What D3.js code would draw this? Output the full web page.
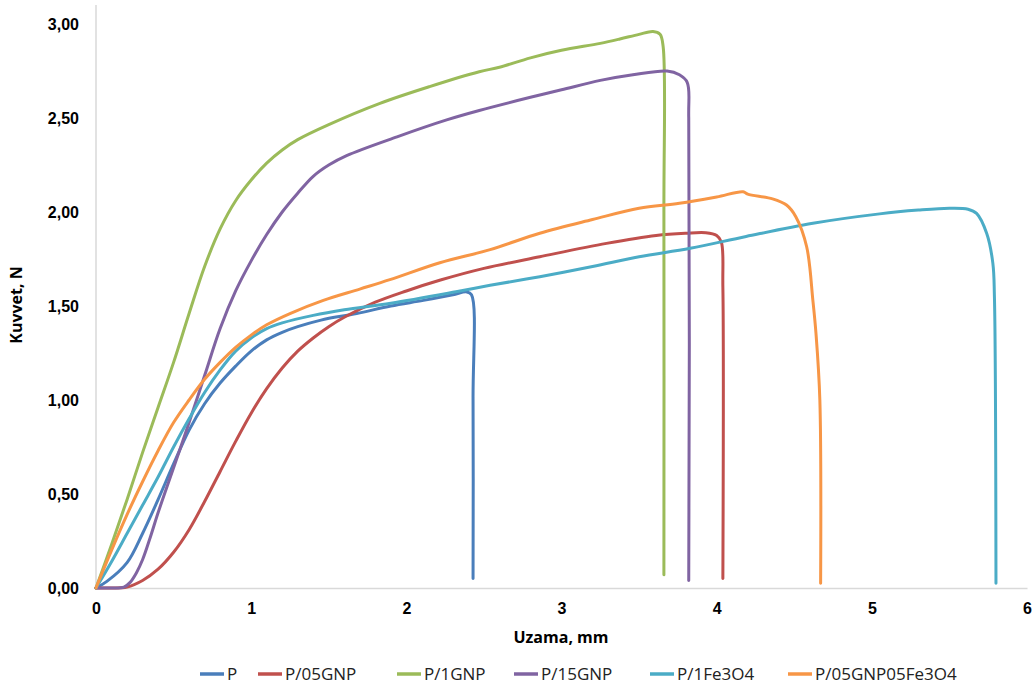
<!DOCTYPE html>
<html>
<head>
<meta charset="utf-8">
<script src="https://cdn.jsdelivr.net/npm/d3@7"></script>
<style>
  body { margin: 0; background: #fff; }
  svg { display: block; font-family: "Open Sans", "DejaVu Sans", sans-serif; }
</style>
</head>
<body>
<svg id="chart" width="1036" height="689"></svg>
<script>
// series names & colours
const seriesNames = ['P', 'P/05GNP', 'P/1GNP', 'P/15GNP', 'P/1Fe3O4', 'P/05GNP05Fe3O4'];
const seriesColors = ['#4A7EBB', '#C0504D', '#9BBB59', '#8064A2', '#4BACC6', '#F79646'];

// elongation (mm) / force (N)
const pX = [0, 0.07, 0.2, 0.3, 0.4, 0.5, 0.6, 0.7, 0.8, 0.9, 1.0, 1.1, 1.2, 1.3, 1.45, 1.68, 1.9, 2.11, 2.3, 2.39, 2.42, 2.43, 2.43];
const pY = [0, 0.035, 0.135, 0.29, 0.47, 0.66, 0.84, 0.98, 1.09, 1.18, 1.26, 1.32, 1.36, 1.39, 1.425, 1.46, 1.5, 1.53, 1.56, 1.575, 1.56, 1.0, 0.05];

const gnp05X = [0, 0.1, 0.2, 0.3, 0.4, 0.5, 0.6, 0.7, 0.8, 0.9, 1.0, 1.1, 1.2, 1.3, 1.4, 1.5, 1.6, 1.8, 2.0, 2.22, 2.5, 2.86, 3.29, 3.61, 3.8, 3.93, 4.0, 4.03, 4.04, 4.04];
const gnp05Y = [0, 0, 0.005, 0.04, 0.1, 0.19, 0.31, 0.46, 0.62, 0.78, 0.93, 1.06, 1.17, 1.26, 1.33, 1.39, 1.44, 1.52, 1.58, 1.638, 1.7, 1.762, 1.833, 1.875, 1.887, 1.89, 1.875, 1.84, 1.6, 0.05];

const gnp1X = [0, 0.1, 0.2, 0.3, 0.4, 0.5, 0.6, 0.7, 0.8, 0.9, 1.0, 1.1, 1.2, 1.3, 1.5, 1.83, 2.15, 2.47, 2.6, 2.8, 3.0, 3.25, 3.376, 3.5, 3.59, 3.635, 3.655, 3.66, 3.66];
const gnp1Y = [0, 0.23, 0.47, 0.72, 0.96, 1.2, 1.46, 1.71, 1.91, 2.06, 2.17, 2.26, 2.33, 2.385, 2.465, 2.578, 2.667, 2.746, 2.77, 2.82, 2.86, 2.897, 2.92, 2.945, 2.96, 2.945, 2.88, 2.0, 0.07];

const gnp15X = [0, 0.1, 0.18, 0.22, 0.26, 0.3, 0.35, 0.4, 0.5, 0.6, 0.7, 0.8, 0.9, 1.0, 1.1, 1.2, 1.3, 1.4, 1.5, 1.615, 1.94, 2.26, 2.47, 2.8, 3.0, 3.25, 3.46, 3.68, 3.76, 3.81, 3.82, 3.82];
const gnp15Y = [0, 0, 0.005, 0.03, 0.08, 0.15, 0.27, 0.4, 0.64, 0.88, 1.13, 1.38, 1.58, 1.74, 1.88, 2.0, 2.1, 2.19, 2.25, 2.3, 2.4, 2.49, 2.54, 2.61, 2.65, 2.7, 2.73, 2.75, 2.73, 2.69, 2.5, 0.04];

const fe1X = [0, 0.1, 0.2, 0.3, 0.4, 0.5, 0.6, 0.7, 0.8, 0.9, 1.0, 1.1, 1.2, 1.4, 1.6, 1.9, 2.32, 2.54, 2.86, 3.2, 3.5, 3.83, 4.19, 4.62, 5.05, 5.3, 5.5, 5.62, 5.675, 5.74, 5.78, 5.79, 5.8];
const fe1Y = [0, 0.14, 0.29, 0.44, 0.59, 0.75, 0.9, 1.04, 1.16, 1.26, 1.33, 1.38, 1.41, 1.45, 1.48, 1.515, 1.576, 1.61, 1.656, 1.71, 1.762, 1.807, 1.87, 1.94, 1.99, 2.01, 2.02, 2.015, 1.993, 1.887, 1.727, 1.55, 0.025];

const gnpFeX = [0, 0.1, 0.2, 0.3, 0.4, 0.5, 0.6, 0.7, 0.8, 0.9, 1.0, 1.1, 1.25, 1.465, 1.7, 1.894, 2.216, 2.54, 2.86, 3.2, 3.5, 3.76, 4.0, 4.17, 4.2, 4.36, 4.45, 4.51, 4.58, 4.62, 4.64, 4.665, 4.67];
const gnpFeY = [0, 0.2, 0.39, 0.565, 0.73, 0.88, 1.0, 1.11, 1.2, 1.28, 1.345, 1.4, 1.46, 1.53, 1.59, 1.64, 1.73, 1.80, 1.887, 1.96, 2.02, 2.046, 2.08, 2.108, 2.095, 2.07, 2.037, 1.975, 1.815, 1.53, 1.355, 1.0, 0.025];

const xTicks = [0, 1, 2, 3, 4, 5, 6];
const yTicks = [0, 0.5, 1, 1.5, 2, 2.5, 3];

const allX = [pX, gnp05X, gnp1X, gnp15X, fe1X, gnpFeX];
const allY = [pY, gnp05Y, gnp1Y, gnp15Y, fe1Y, gnpFeY];

const series = seriesNames.map((name, i) => ({
    name: name,
    color: seriesColors[i],
    points: allX[i].map((x, j) => [x, allY[i][j]])
}));

const margin = { top: 24, right: 9, bottom: 101, left: 96 };
const width = 1036, height = 689;

const svg = d3.select('#chart');

const x = d3.scaleLinear()
    .domain([0, 6])
    .range([margin.left, width - margin.right]);

const y = d3.scaleLinear()
    .domain([0, 3])
    .range([height - margin.bottom, margin.top]);

const fmt = d => d3.format('.2f')(d).replace('.', ',');

// y axis
const yAxis = svg.append('g')
    .attr('transform', 'translate(' + margin.left + ',0)')
    .call(d3.axisLeft(y).tickValues(yTicks).tickFormat(fmt).tickSize(0).tickPadding(17));
yAxis.select('.domain').remove();
yAxis.append('line')
    .attr('x1', 0).attr('x2', 0)
    .attr('y1', 5).attr('y2', y(0))
    .attr('stroke', '#D9D9D9').attr('stroke-width', 1.5);

// x axis
const xAxis = svg.append('g')
    .attr('transform', 'translate(0,' + y(0) + ')')
    .call(d3.axisBottom(x).tickValues(xTicks).tickFormat(d3.format('d')).tickSize(0).tickPadding(15));
xAxis.select('.domain').attr('stroke', '#D9D9D9').attr('stroke-width', 1.5);

svg.selectAll('.tick text')
    .attr('font-size', 16)
    .attr('font-weight', 700)
    .attr('fill', '#000');

// axis titles
svg.append('text')
    .attr('x', 561).attr('y', 643)
    .attr('text-anchor', 'middle')
    .attr('font-size', 16).attr('font-weight', 700)
    .text('Uzama, mm');

svg.append('text')
    .attr('transform', 'translate(22,305) rotate(-90)')
    .attr('text-anchor', 'middle')
    .attr('font-size', 16).attr('font-weight', 700)
    .text('Kuvvet, N');

// curves
const line = d3.line()
    .x(d => x(d[0]))
    .y(d => y(d[1]))
    .curve(d3.curveCatmullRom.alpha(0.5));

svg.append('g')
    .selectAll('path')
    .data(series)
    .join('path')
    .attr('d', d => line(d.points))
    .attr('fill', 'none')
    .attr('stroke', d => d.color)
    .attr('stroke-width', 3)
    .attr('stroke-linejoin', 'round')
    .attr('stroke-linecap', 'round');

// legend
const legendX = [200, 258, 397, 514, 650, 788];
const legend = svg.append('g')
    .selectAll('g')
    .data(series)
    .join('g')
    .attr('transform', (d, i) => 'translate(' + legendX[i] + ',674)');

legend.append('line')
    .attr('x1', 0).attr('x2', 24)
    .attr('stroke', d => d.color)
    .attr('stroke-width', 3.5);

legend.append('text')
    .attr('x', 27).attr('dy', '0.35em')
    .attr('font-size', 17)
    .attr('fill', '#222')
    .text(d => d.name);
</script>
</body>
</html>
